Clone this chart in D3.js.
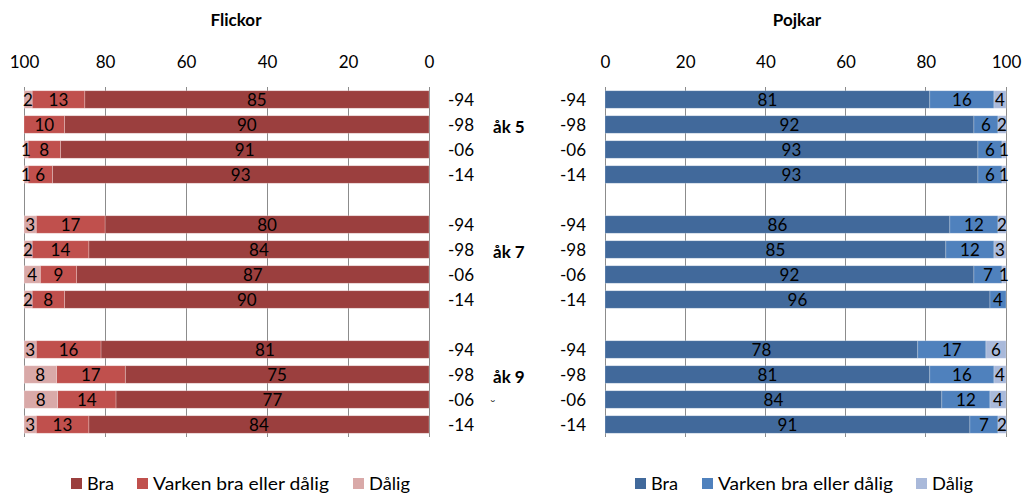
<!DOCTYPE html>
<html><head><meta charset="utf-8">
<script src="https://cdn.jsdelivr.net/npm/d3@7"></script>
<style>body{margin:0;background:#fff}svg{display:block;font-family:Lato,"Open Sans",sans-serif}</style>
</head><body><svg id="c" width="1028" height="494"></svg>
<script>
const years = ["-94","-98","-06","-14"];
const grades = ["åk 5","åk 7","åk 9"];
const seriesNames = ["Bra","Varken bra eller dålig","Dålig"];
const ticks = [0,20,40,60,80,100];
const flickorBra    = [85,90,91,93, 80,84,87,90, 81,75,77.3,84];
const flickorVarken = [13,10,8,6,   17,14,9,8,   16,17,14.4,13];
const flickorDalig  = [2,0,1,1,     3,2,4,2,     3,8,8.3,3];
const pojkarBra     = [81,92,93,93, 86,85,92,96, 78,81,84,91];
const pojkarVarken  = [16,6,6,6,    12,12,7,4,   17,16,12,7];
const pojkarDalig   = [4,2,1,1,     2,3,1,0,     6,4,4,2];
const flickorColors = ["#9B3F3E","#C0504D","#D9A9A8"];
const pojkarColors  = ["#41699B","#4F81BD","#A9B9DA"];

const svg = d3.select("#c");
const slots = [];
grades.forEach((g,gi)=>{ years.forEach(y=>slots.push(g+y)); if(gi<grades.length-1) slots.push("gap"+gi); });
const y = d3.scaleBand().domain(slots).range([87,437]).paddingInner(0.3).paddingOuter(0.15);
const fmt = d3.format(".0f");

function rows(bra,varken,dalig){
  const out=[];
  grades.forEach((g,gi)=>years.forEach((yr,yi)=>{
    const i=gi*4+yi; out.push({key:g+yr, vals:[bra[i],varken[i],dalig[i]]});
  }));
  return out;
}

function panel(opts){
  const x = d3.scaleLinear().domain([0,100]).range(opts.range);
  const g = svg.append("g");
  g.selectAll("line.grid").data(ticks).join("line")
    .attr("x1",d=>x(d)).attr("x2",d=>x(d)).attr("y1",87).attr("y2",437)
    .attr("stroke","#8c8c8c").attr("stroke-width",1).attr("shape-rendering","crispEdges");
  const ax = g.append("g").attr("transform","translate(0,62)")
    .call(d3.axisTop(x).tickValues(ticks).tickSize(0).tickPadding(0).tickFormat(d3.format("d")));
  ax.select(".domain").remove();
  ax.selectAll("text").attr("font-size",17).attr("fill","#000").attr("dy","0.35em").attr("font-family","Lato,sans-serif");
  g.append("text").attr("x",opts.titleX).attr("y",20).attr("text-anchor","middle")
    .attr("dy","0.35em").attr("font-size",17).attr("font-weight","bold").text(opts.title);
  const data = rows(...opts.data);
  data.forEach(r=>{
    let acc=0;
    r.vals.forEach((v,si)=>{
      const a=acc, b=Math.min(100,acc+v); acc+=v;
      if(v<=0) return;
      const x0=Math.min(x(a),x(b)), x1=Math.max(x(a),x(b));
      g.append("rect").attr("x",x0).attr("y",y(r.key)).attr("width",x1-x0).attr("height",y.bandwidth())
        .attr("fill",opts.colors[si]).attr("stroke","rgba(255,255,255,0.35)").attr("stroke-width",0.7);
      g.append("text").attr("x",(x0+x1)/2).attr("y",y(r.key)+y.bandwidth()/2+1)
        .attr("text-anchor","middle").attr("dy","0.35em").attr("font-size",17).attr("fill","#000").text(fmt(v));
    });
  });
  g.selectAll("text.yr").data(data).join("text").attr("class","yr")
    .attr("x",opts.yrX).attr("y",d=>y(d.key)+y.bandwidth()/2+1).attr("dy","0.35em")
    .attr("text-anchor",opts.yrAnchor).attr("font-size",17).text(d=>d.key.slice(-3));
  const lg = g.append("g").attr("transform",`translate(0,484)`);
  opts.legendX.forEach((lx,i)=>{
    lg.append("rect").attr("x",lx).attr("y",-6).attr("width",11).attr("height",11).attr("fill",opts.colors[i]);
    lg.append("text").attr("x",lx+16).attr("y",0).attr("dy","0.35em").attr("font-size",18)
      .attr("textLength",opts.legendW[i]).attr("lengthAdjust","spacingAndGlyphs").text(seriesNames[i]);
  });
}

panel({range:[429,24], title:"Flickor", titleX:236, colors:flickorColors,
  data:[flickorBra,flickorVarken,flickorDalig], yrX:448, yrAnchor:"start",
  legendX:[71,137,353], legendW:[27,176,41]});
panel({range:[605,1006], title:"Pojkar", titleX:797, colors:pojkarColors,
  data:[pojkarBra,pojkarVarken,pojkarDalig], yrX:586, yrAnchor:"end",
  legendX:[635,702,916], legendW:[27,175,41]});

svg.selectAll("text.grade").data(grades).join("text").attr("class","grade")
  .attr("x",493).attr("y",(d,i)=>y(d+years[1])+y.bandwidth()/2+3).attr("dy","0.35em")
  .attr("font-size",17).attr("font-weight","bold").text(d=>d);
svg.append("text").attr("x",490).attr("y",410).attr("font-size",14).attr("fill","#444").text("˘");
</script></body></html>
